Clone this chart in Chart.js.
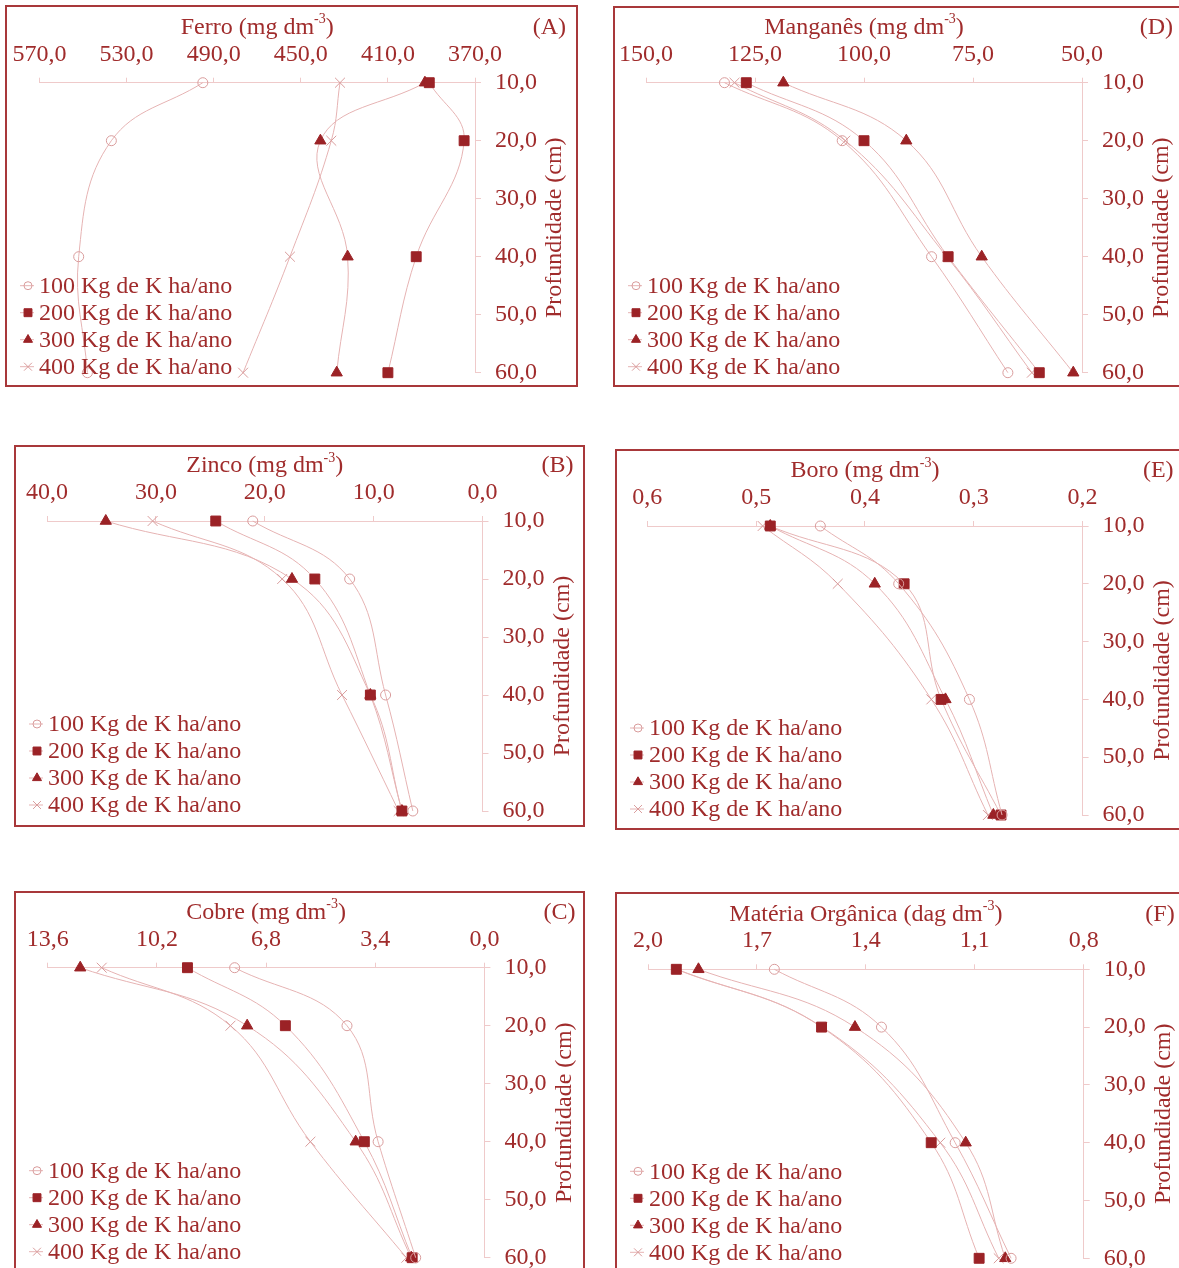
<!DOCTYPE html>
<html>
<head>
<meta charset="utf-8">
<script src="https://cdn.jsdelivr.net/npm/chart.js@4.4.0/dist/chart.umd.min.js"></script>
<style>
  body { margin: 0; background: #fff; overflow: hidden; width: 1179px; height: 1268px; position: relative; }
  .panel { position: absolute; border: 2px solid #a8383a; box-sizing: border-box; }
  .panel canvas { position: absolute; left: 0; top: 0; }
</style>
</head>
<body>
<div class="panel" id="pA"><canvas id="cA"></canvas></div>
<div class="panel" id="pD"><canvas id="cD"></canvas></div>
<div class="panel" id="pB"><canvas id="cB"></canvas></div>
<div class="panel" id="pE"><canvas id="cE"></canvas></div>
<div class="panel" id="pC"><canvas id="cC"></canvas></div>
<div class="panel" id="pF"><canvas id="cF"></canvas></div>
<script>
// profundidades (cm) e doses
var depths = [10, 20, 40, 60];
var depthTicks = [10, 20, 30, 40, 50, 60];
var doseLabels = ['100 Kg de K ha/ano', '200 Kg de K ha/ano', '300 Kg de K ha/ano', '400 Kg de K ha/ano'];

// Ferro
var ferroTicks = [570, 530, 490, 450, 410, 370];
var ferro100 = [495, 537, 552, 548];
var ferro200 = [391, 375, 397, 410];
var ferro300 = [393, 441, 428.5, 433.5];
var ferro400 = [432, 436, 455, 476.5];

// Manganes
var mangTicks = [150, 125, 100, 75, 50];
var mang100 = [132, 105, 84.5, 67];
var mang200 = [127, 100, 80.7, 59.8];
var mang300 = [118.5, 90.3, 73, 52];
var mang400 = [129.7, 104.3, 81, 61.5];

// Zinco
var zincoTicks = [40, 30, 20, 10, 0];
var zinco100 = [21.1, 12.2, 8.9, 6.4];
var zinco200 = [24.5, 15.4, 10.3, 7.4];
var zinco300 = [34.6, 17.5, 10.3, 7.4];
var zinco400 = [30.3, 18.4, 12.9, 7.7];

// Boro
var boroTicks = [0.6, 0.5, 0.4, 0.3, 0.2];
var boro100 = [0.441, 0.369, 0.304, 0.274];
var boro200 = [0.487, 0.364, 0.330, 0.275];
var boro300 = [0.487, 0.391, 0.326, 0.282];
var boro400 = [0.494, 0.425, 0.339, 0.287];

// Cobre
var cobreTicks = [13.6, 10.2, 6.8, 3.4, 0];
var cobre100 = [7.78, 4.28, 3.31, 2.14];
var cobre200 = [9.25, 6.2, 3.74, 2.25];
var cobre300 = [12.59, 7.39, 4.01, 2.28];
var cobre400 = [11.92, 7.91, 5.42, 2.43];

// Materia organica
var moTicks = [2.0, 1.7, 1.4, 1.1, 0.8];
var mo100 = [1.652, 1.357, 1.154, 1.0];
var mo200 = [1.922, 1.522, 1.22, 1.088];
var mo300 = [1.861, 1.43, 1.125, 1.016];
var mo400 = [1.92, 1.52, 1.195, 1.034];

var textColor = '#a02c2c';
var darkMark = '#9b2226';
var lightMark = '#d99c9c';
var lineColor = '#e6b3b3';
var axisColor = '#efcaca';
var FONT = '"Liberation Serif", "Times New Roman", serif';
var FSIZE = 24;

var markStyles = [
  { pointStyle: 'circle', radius: 5, bg: 'rgba(255,255,255,0)', border: lightMark },
  { pointStyle: 'rect', radius: 7, bg: darkMark, border: darkMark },
  { pointStyle: 'triangle', radius: 6.5, bg: darkMark, border: darkMark },
  { pointStyle: 'crossRot', radius: 7, bg: 'rgba(255,255,255,0)', border: lightMark }
];

// frame: [x, y, w, h]  area: [left, right, top, bottom] (page px)
var panels = [
  { id: 'A', title: 'Ferro (mg dm', tag: '(A)', ticks: ferroTicks, series: [ferro100, ferro200, ferro300, ferro400],
    frame: [5, 5, 573, 382], area: [39.5, 475, 82.7, 372.7] },
  { id: 'D', title: 'Manganês (mg dm', tag: '(D)', ticks: mangTicks, series: [mang100, mang200, mang300, mang400],
    frame: [613, 6, 580, 381], area: [646, 1082, 82.7, 372.7] },
  { id: 'B', title: 'Zinco (mg dm', tag: '(B)', ticks: zincoTicks, series: [zinco100, zinco200, zinco300, zinco400],
    frame: [14, 445, 571, 382], area: [47, 482.5, 521, 811] },
  { id: 'E', title: 'Boro (mg dm', tag: '(E)', ticks: boroTicks, series: [boro100, boro200, boro300, boro400],
    frame: [615, 449, 580, 381], area: [647.3, 1082.6, 526, 815] },
  { id: 'C', title: 'Cobre (mg dm', tag: '(C)', ticks: cobreTicks, series: [cobre100, cobre200, cobre300, cobre400],
    frame: [14, 891, 571, 392], area: [47.8, 484.4, 967.7, 1257.7] },
  { id: 'F', title: 'Matéria Orgânica (dag dm', tag: '(F)', ticks: moTicks, series: [mo100, mo200, mo300, mo400],
    frame: [615, 892, 580, 392], area: [648, 1083.7, 969.3, 1258.3] }
];

function fmt(v) {
  return Number(v).toFixed(1).replace('.', ',');
}

var decor = {
  id: 'decor',
  afterDraw: function(chart, args, opts) {
    var ctx = chart.ctx, ca = chart.chartArea;
    ctx.save();
    ctx.fillStyle = textColor;
    ctx.textBaseline = 'middle';

    // titulo com expoente
    var big = FSIZE + 'px ' + FONT, small = '14px ' + FONT;
    ctx.font = big;
    var w1 = ctx.measureText(opts.title).width;
    var w3 = ctx.measureText(')').width;
    ctx.font = small;
    var w2 = ctx.measureText('-3').width;
    var tx = (ca.left + ca.right) / 2 - (w1 + w2 + w3) / 2;
    var ty = ca.top - 55;
    ctx.textAlign = 'left';
    ctx.font = big;
    ctx.fillText(opts.title, tx, ty);
    ctx.font = small;
    ctx.fillText('-3', tx + w1, ty - 8);
    ctx.font = big;
    ctx.fillText(')', tx + w1 + w2, ty);

    // letra do painel
    ctx.textAlign = 'right';
    ctx.fillText(opts.tag, ca.right + 91, ty);

    // titulo do eixo y
    ctx.save();
    ctx.translate(ca.right + 80, (ca.top + ca.bottom) / 2);
    ctx.rotate(-Math.PI / 2);
    ctx.textAlign = 'center';
    ctx.fillText('Profundidade (cm)', 0, 0);
    ctx.restore();

    // legenda
    var lx = opts.legendX;
    chart.data.datasets.forEach(function(ds, i) {
      var y = ca.bottom - 87 + 27 * i;
      var st = markStyles[i];
      ctx.strokeStyle = lineColor;
      ctx.lineWidth = 1;
      ctx.beginPath();
      ctx.moveTo(lx - 8, y);
      ctx.lineTo(lx + 6, y);
      ctx.stroke();
      ctx.fillStyle = st.bg;
      ctx.strokeStyle = st.border;
      Chart.helpers.drawPoint(ctx, { pointStyle: st.pointStyle, radius: st.radius * 0.8, rotation: 0, borderWidth: 1 }, lx, y);
      ctx.fillStyle = textColor;
      ctx.textAlign = 'left';
      ctx.font = big;
      ctx.fillText(ds.label, lx + 11, y + 1);
    });
    ctx.restore();
  }
};

function makeChart(p) {
  var div = document.getElementById('p' + p.id);
  var cv = document.getElementById('c' + p.id);
  var fx = p.frame[0], fy = p.frame[1], fw = p.frame[2], fh = p.frame[3];
  div.style.left = fx + 'px';
  div.style.top = fy + 'px';
  div.style.width = fw + 'px';
  div.style.height = fh + 'px';
  var cw = fw - 4, ch = fh - 4;
  cv.width = cw;
  cv.height = ch;
  var ox = fx + 2, oy = fy + 2;
  var L = p.area[0] - ox, R = p.area[1] - ox, T = p.area[2] - oy, B = p.area[3] - oy;

  var datasets = p.series.map(function(vals, i) {
    var st = markStyles[i];
    return {
      label: doseLabels[i],
      data: depths.map(function(d, j) { return { x: vals[j], y: d }; }),
      showLine: true,
      tension: 0.4,
      borderColor: lineColor,
      borderWidth: 1,
      pointStyle: st.pointStyle,
      pointRadius: st.radius,
      pointBackgroundColor: st.bg,
      pointBorderColor: st.border,
      pointBorderWidth: 1,
      clip: false
    };
  });

  var xmin = Math.min.apply(null, p.ticks), xmax = Math.max.apply(null, p.ticks);

  new Chart(cv, {
    type: 'scatter',
    data: { datasets: datasets },
    options: {
      responsive: false,
      animation: false,
      layout: { autoPadding: false, padding: { left: L, right: 0, top: 0, bottom: ch - B } },
      plugins: {
        legend: { display: false },
        tooltip: { enabled: false },
        decor: { title: p.title, tag: p.tag, legendX: 21 }
      },
      scales: {
        x: {
          type: 'linear',
          position: 'top',
          min: xmin,
          max: xmax,
          reverse: true,
          afterBuildTicks: function(axis) {
            axis.ticks = p.ticks.map(function(v) { return { value: v }; });
          },
          afterFit: function(axis) {
            axis.height = T;
            axis.paddingLeft = 0;
            axis.paddingRight = 0;
          },
          grid: { drawOnChartArea: false, color: axisColor, tickLength: 5 },
          border: { color: axisColor },
          ticks: {
            color: textColor,
            font: { family: FONT, size: FSIZE },
            padding: 9,
            maxRotation: 0,
            autoSkip: false,
            callback: function(v) { return fmt(v); }
          }
        },
        y: {
          type: 'linear',
          position: 'right',
          min: 10,
          max: 60,
          reverse: true,
          afterBuildTicks: function(axis) {
            axis.ticks = depthTicks.map(function(v) { return { value: v }; });
          },
          afterFit: function(axis) {
            axis.width = cw - R;
            axis.paddingTop = 0;
            axis.paddingBottom = 0;
          },
          grid: { drawOnChartArea: false, color: axisColor, tickLength: 6 },
          border: { color: axisColor },
          ticks: {
            color: textColor,
            font: { family: FONT, size: FSIZE },
            padding: 14,
            autoSkip: false,
            callback: function(v) { return fmt(v); }
          }
        }
      }
    },
    plugins: [decor]
  });
}

panels.forEach(makeChart);
</script>
</body>
</html>
